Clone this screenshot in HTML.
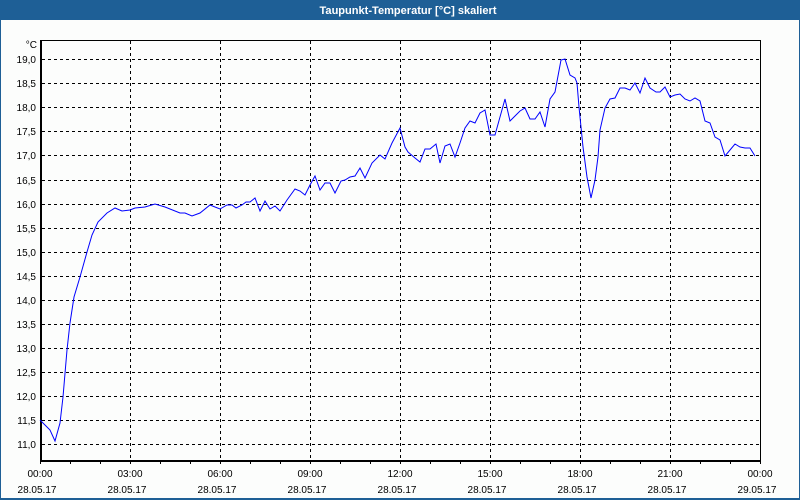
<!DOCTYPE html>
<html><head><meta charset="utf-8"><style>
html,body{margin:0;padding:0;background:#1e5f96;}
svg{display:block;}
text{font-family:"Liberation Sans",Arial,sans-serif;}
</style></head><body>
<svg width="800" height="500" viewBox="0 0 800 500" xmlns="http://www.w3.org/2000/svg">
<rect x="0" y="0" width="800" height="500" fill="#1e5f96"/>
<rect x="1" y="20" width="798" height="478" fill="#fcfdfc"/>
<text x="408" y="14" fill="#ffffff" font-size="11" font-weight="bold" text-anchor="middle" textLength="177" lengthAdjust="spacingAndGlyphs">Taupunkt-Temperatur [°C] skaliert</text>
<g stroke="#000" stroke-width="1" stroke-dasharray="3,3" shape-rendering="crispEdges">
<line x1="42" y1="59.5" x2="760" y2="59.5"/>
<line x1="42" y1="83.5" x2="760" y2="83.5"/>
<line x1="42" y1="107.5" x2="760" y2="107.5"/>
<line x1="42" y1="131.5" x2="760" y2="131.5"/>
<line x1="42" y1="155.5" x2="760" y2="155.5"/>
<line x1="42" y1="180.5" x2="760" y2="180.5"/>
<line x1="42" y1="204.5" x2="760" y2="204.5"/>
<line x1="42" y1="228.5" x2="760" y2="228.5"/>
<line x1="42" y1="252.5" x2="760" y2="252.5"/>
<line x1="42" y1="276.5" x2="760" y2="276.5"/>
<line x1="42" y1="300.5" x2="760" y2="300.5"/>
<line x1="42" y1="324.5" x2="760" y2="324.5"/>
<line x1="42" y1="348.5" x2="760" y2="348.5"/>
<line x1="42" y1="372.5" x2="760" y2="372.5"/>
<line x1="42" y1="396.5" x2="760" y2="396.5"/>
<line x1="42" y1="420.5" x2="760" y2="420.5"/>
<line x1="42" y1="444.5" x2="760" y2="444.5"/>
<line x1="130.5" y1="41" x2="130.5" y2="460"/>
<line x1="220.5" y1="41" x2="220.5" y2="460"/>
<line x1="310.5" y1="41" x2="310.5" y2="460"/>
<line x1="400.5" y1="41" x2="400.5" y2="460"/>
<line x1="490.5" y1="41" x2="490.5" y2="460"/>
<line x1="580.5" y1="41" x2="580.5" y2="460"/>
<line x1="670.5" y1="41" x2="670.5" y2="460"/>
</g>
<g stroke="#000" fill="none" shape-rendering="crispEdges">
<line x1="40" y1="40.5" x2="761" y2="40.5" stroke-width="1"/>
<line x1="760.5" y1="40" x2="760.5" y2="462" stroke-width="1"/>
<line x1="41" y1="40" x2="41" y2="462" stroke-width="2"/>
<line x1="40" y1="461" x2="761" y2="461" stroke-width="2"/>
<path stroke-width="1" d="M40.5 462v2M70.5 462v2M100.5 462v2M130.5 462v2M160.5 462v2M190.5 462v2M220.5 462v2M250.5 462v2M280.5 462v2M310.5 462v2M340.5 462v2M370.5 462v2M400.5 462v2M430.5 462v2M460.5 462v2M490.5 462v2M520.5 462v2M550.5 462v2M580.5 462v2M610.5 462v2M640.5 462v2M670.5 462v2M700.5 462v2M730.5 462v2M760.5 462v2"/>
</g>
<polyline fill="none" stroke="#0000ff" stroke-width="1" points="40,420 50,430 55,441 60,423 63,397 67,350 70,323 74,297 80,277 87,252 92,235 98,222 107,213 115,208 122,211 130,210 135,208 145,207 155,204 165,207 180,213 185,213 192,216 200,213 210,205 215,207 220,209 227,205 232,205 236,208 242,205 246,202 250,202 255,198 260,211 265,201 270,209 275,206 280,211 287,200 295,189 300,191 305,195 310,185 315,176 320,190 325,183 330,183 335,193 341,181 345,180 350,177 355,176 360,168 365,178 372,163 380,155 385,159 392,143 400,128 405,147 408,152 415,158 420,162 425,149 430,149 436,144 440,163 445,146 450,144 455,157 460,143 465,128 470,121 475,123 480,113 485,110 490,135 495,135 500,117 505,99 510,121 515,116 520,111 525,108 530,119 535,119 540,112 545,127 550,99 555,92 561,60 565,59 570,75 575,78 577,83 579,107 583,147 587,177 591,198 595,180 598,157 600,130 605,108 610,99 615,98 620,88 625,88 630,90 635,83 640,93 645,78 650,88 656,92 660,92 665,87 670,97 675,95 680,94 685,99 690,101 695,98 700,101 705,121 710,123 715,137 720,140 725,156 730,150 735,144 740,147 745,148 750,148 755,156"/>
<g font-size="10" fill="#000" text-anchor="end">
<text x="37" y="48">°C</text>
<text x="36" y="63">19,0</text>
<text x="36" y="87">18,5</text>
<text x="36" y="111">18,0</text>
<text x="36" y="135">17,5</text>
<text x="36" y="159">17,0</text>
<text x="36" y="184">16,5</text>
<text x="36" y="208">16,0</text>
<text x="36" y="232">15,5</text>
<text x="36" y="256">15,0</text>
<text x="36" y="280">14,5</text>
<text x="36" y="304">14,0</text>
<text x="36" y="328">13,5</text>
<text x="36" y="352">13,0</text>
<text x="36" y="376">12,5</text>
<text x="36" y="400">12,0</text>
<text x="36" y="424">11,5</text>
<text x="36" y="448">11,0</text>
</g>
<g font-size="10" fill="#000" text-anchor="middle">
<text x="40" y="477">00:00</text><text x="37" y="493">28.05.17</text>
<text x="130" y="477">03:00</text><text x="127" y="493">28.05.17</text>
<text x="220" y="477">06:00</text><text x="217" y="493">28.05.17</text>
<text x="310" y="477">09:00</text><text x="307" y="493">28.05.17</text>
<text x="400" y="477">12:00</text><text x="397" y="493">28.05.17</text>
<text x="490" y="477">15:00</text><text x="487" y="493">28.05.17</text>
<text x="580" y="477">18:00</text><text x="577" y="493">28.05.17</text>
<text x="670" y="477">21:00</text><text x="667" y="493">28.05.17</text>
<text x="760" y="477">00:00</text><text x="757" y="493">29.05.17</text>
</g>
</svg>
</body></html>
